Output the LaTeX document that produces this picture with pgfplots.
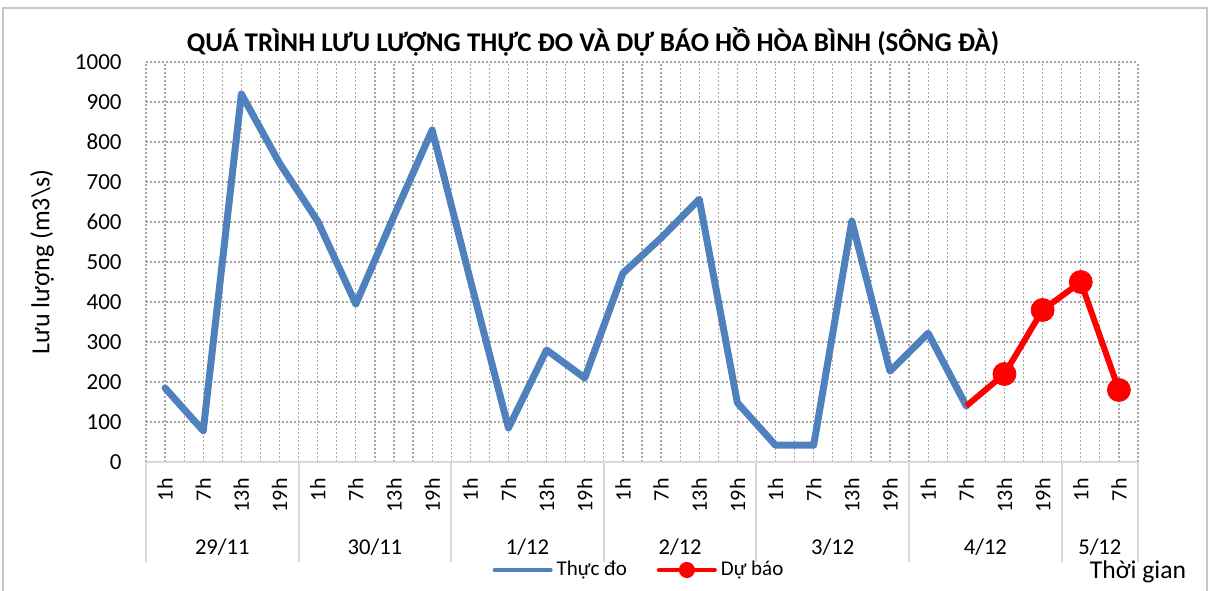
\documentclass[border=0pt]{standalone}
\usepackage{pgfplots}
\pgfplotsset{compat=1.18}
\usepackage{fontspec}
\setmainfont{Carlito}
\definecolor{xlblue}{HTML}{4F81BD}
\definecolor{xlgrid}{HTML}{A6A6A6}
\definecolor{xlline}{HTML}{D9D9D9}
\begin{document}
\begin{tikzpicture}
\useasboundingbox (-73pt,-64pt) rectangle (532.5pt,231pt);
\draw[xlline!80!gray, line width=0.8pt] (-71.5pt,-70pt) -- (-71.5pt,227pt) -- (530.5pt,227pt) -- (530.5pt,-70pt);
\begin{axis}[
  at={(0pt,0pt)}, anchor=south west, scale only axis,
  width=496pt, height=200pt,
  xmin=-0.5, xmax=25.5, ymin=0, ymax=1000,
  xtick={0,...,25},
  xticklabels={1h,7h,13h,19h,1h,7h,13h,19h,1h,7h,13h,19h,1h,7h,13h,19h,1h,7h,13h,19h,1h,7h,13h,19h,1h,7h},
  minor xtick={-0.5,0.5,...,25.5},
  ytick={0,100,...,1000},
  grid=both,
  major grid style={xlgrid, line width=0.6pt, dash pattern=on 1pt off 1pt},
  minor grid style={xlgrid, line width=0.6pt, dash pattern=on 1pt off 1pt},
  major tick length=0pt, minor tick length=0pt,
  axis line style={draw=none},
  clip=false,
  /pgf/number format/assume math mode=true,
  /pgf/number format/1000 sep={},
  yticklabel style={font=\fontsize{11.5}{13}\selectfont, inner sep=0pt},
  yticklabel shift=12pt,
  xticklabel style={rotate=90, anchor=east, inner sep=0pt, font=\fontsize{11}{13}\selectfont},
  xticklabel shift=8pt,
  ylabel={Lưu lượng (m3\textbackslash s)},
  ylabel style={at={(axis description cs:-0.1048,0.5)}, anchor=center, font=\fontsize{13}{15}\selectfont},
  title={QUÁ TRÌNH LƯU LƯỢNG THỰC ĐO VÀ DỰ BÁO HỒ HÒA BÌNH (SÔNG ĐÀ)},
  title style={at={(axis description cs:0.4506,1.02)}, anchor=center, font=\bfseries\fontsize{13.5}{15}\selectfont},
  legend style={at={(axis description cs:0.498,-0.27)}, anchor=center, draw=none, fill=none,
    legend columns=2, font=\fontsize{10.5}{12}\selectfont,
    /tikz/every even column/.append style={column sep=13pt}},
  legend image code/.code={\draw[line width=2pt, mark size=3pt, mark repeat=2, mark phase=2, line cap=round] plot coordinates {(0pt,0pt) (14pt,0pt) (28pt,0pt)};},
]
\addplot[xlblue, line width=3.5pt, line join=round, line cap=round] coordinates {
(0,185) (1,78) (2,920) (3,747) (4,602) (5,395) (6,615) (7,830)
(8,455) (9,85) (10,280) (11,210) (12,472) (13,560) (14,657) (15,148)
(16,42) (17,42) (18,602) (19,227) (20,322) (21,140)};
\addlegendentry{Thực đo}
\addplot[red, line width=3pt, line join=round, forget plot] coordinates {
(21,140) (22,220) (23,380) (24,450) (25,180)};
\addplot[red, only marks, mark=*, mark size=5.75pt, mark options={fill=red, draw=red}, forget plot] coordinates {
(22,220) (23,380) (24,450) (25,180)};
\addlegendimage{red, line width=3pt, mark=*, mark options={fill=red, draw=red}}
\addlegendentry{Dự báo}
\draw[xlline, line width=1pt] (axis cs:-0.5,0) -- (axis cs:25.5,0);
\pgfplotsinvokeforeach{-0.5,3.5,7.5,11.5,15.5,19.5,23.5,25.5}{
  \draw[xlline, line width=1pt] (axis cs:#1,0) -- ++(0pt,-50pt);
}
\begin{scope}[font=\fontsize{11.3}{13}\selectfont]
\node at ([yshift=-42.5pt]axis cs:1.5,0) {29/11};
\node at ([yshift=-42.5pt]axis cs:5.5,0) {30/11};
\node at ([yshift=-42.5pt]axis cs:9.5,0) {1/12};
\node at ([yshift=-42.5pt]axis cs:13.5,0) {2/12};
\node at ([yshift=-42.5pt]axis cs:17.5,0) {3/12};
\node at ([yshift=-42.5pt]axis cs:21.5,0) {4/12};
\node at ([yshift=-42.5pt]axis cs:24.5,0) {5/12};
\end{scope}
\end{axis}
\node[font=\fontsize{12.8}{15}\selectfont] at (496pt,-55pt) {Thời gian};
\end{tikzpicture}
\end{document}
